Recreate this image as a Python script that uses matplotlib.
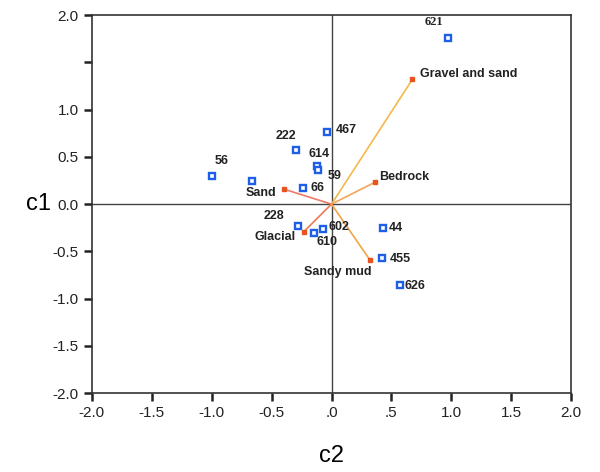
import matplotlib
matplotlib.use("Agg")
import matplotlib.pyplot as plt

plt.rcParams['font.family'] = ['Liberation Sans', 'DejaVu Sans']

# site scores (c2, c1)
sites = ['621', '467', '222', '614', '59', '56', '', '66', '228', '610', '602', '44', '455', '626']
site_c2 = [0.97, -0.04, -0.30, -0.12, -0.11, -1.00, -0.66, -0.24, -0.28, -0.15, -0.07, 0.43, 0.42, 0.57]
site_c1 = [1.76, 0.76, 0.57, 0.40, 0.36, 0.30, 0.25, 0.17, -0.23, -0.31, -0.26, -0.25, -0.57, -0.86]

# sediment type vectors (c2, c1)
sediments = ['Gravel and sand', 'Bedrock', 'Sand', 'Glacial', 'Sandy mud']
sed_c2 = [0.675, 0.36, -0.40, -0.23, 0.32]
sed_c1 = [1.32, 0.23, 0.16, -0.29, -0.59]

x_ticks = [-2.0, -1.5, -1.0, -0.5, 0.0, 0.5, 1.0, 1.5, 2.0]
x_ticklabels = ['-2.0', '-1.5', '-1.0', '-0.5', '.0', '.5', '1.0', '1.5', '2.0']
y_ticks = [-2.0, -1.5, -1.0, -0.5, 0.0, 0.5, 1.0, 1.5, 2.0]
y_ticklabels = ['-2.0', '-1.5', '-1.0', '-0.5', '0.0', '0.5', '1.0', '', '2.0']

# label offsets in pixels, (dx, dy, ha)
site_off = {
    '621': (-14, 16, 'center'), '467': (9, 2, 'left'), '222': (1, 14, 'right'),
    '614': (2, 12, 'center'), '59': (9, -6, 'left'), '56': (10, 15, 'center'),
    '66': (8, 0, 'left'), '228': (-14, 10, 'right'), '610': (13, -9, 'center'),
    '602': (5, 2, 'left'), '44': (6, 0, 'left'), '455': (8, -1, 'left'),
    '626': (5, -1, 'left'),
}
sed_off = {
    'Gravel and sand': (8, 5, 'left'), 'Bedrock': (4, 5, 'left'),
    'Sand': (-7, -4, 'right'), 'Glacial': (-8, -5, 'right'),
    'Sandy mud': (-32, -12, 'center'),
}
line_colors = ['#f6b84a', '#f3a55a', '#ee7a68', '#ee7a55', '#f2a446']

fig = plt.figure(figsize=(6, 4.72), dpi=100)
ax = fig.add_axes([0.153, 0.167, 0.799, 0.801])

ax.axhline(0, color='#444444', lw=1, zorder=1)
ax.axvline(0, color='#444444', lw=1, zorder=1)

for x, y, c in zip(sed_c2, sed_c1, line_colors):
    ax.plot([0, x], [0, y], color=c, lw=1.2, zorder=2)
ax.plot(sed_c2, sed_c1, 's', ms=3.5, color='#e8541e', mec='#e8541e', zorder=3, ls='none')
for name, x, y in zip(sediments, sed_c2, sed_c1):
    dx, dy, ha = sed_off[name]
    ax.annotate(name, (x, y), xytext=(dx, dy), textcoords='offset pixels',
                ha=ha, va='center', fontsize=9, fontweight='bold', color='#222222')

ax.plot(site_c2, site_c1, 's', ms=5, mfc='white', mec='#1f5fe8', mew=1.7, ls='none', zorder=4)
for name, x, y in zip(sites, site_c2, site_c1):
    if not name:
        continue
    dx, dy, ha = site_off[name]
    fam = ['Liberation Serif'] if name == '621' else ['Liberation Sans']
    ax.annotate(name, (x, y), xytext=(dx, dy), textcoords='offset pixels',
                ha=ha, va='center', fontsize=9, fontweight='bold', color='#222222',
                family=fam)

ax.set_xlim(-2, 2)
ax.set_ylim(-2, 2)
ax.set_xticks(x_ticks)
ax.set_xticklabels(x_ticklabels)
ax.set_yticks(y_ticks)
ax.set_yticklabels(y_ticklabels)
ax.tick_params(direction='out', length=6, width=1.8, labelsize=11, colors='#222222')
for s in ax.spines.values():
    s.set_color('#333333')
    s.set_linewidth(1.2)

ax.set_xlabel('c2', fontsize=17, labelpad=18)
ax.set_ylabel('c1', fontsize=17, rotation=0, labelpad=10, va='center')

fig.savefig('out.png', dpi=100)
